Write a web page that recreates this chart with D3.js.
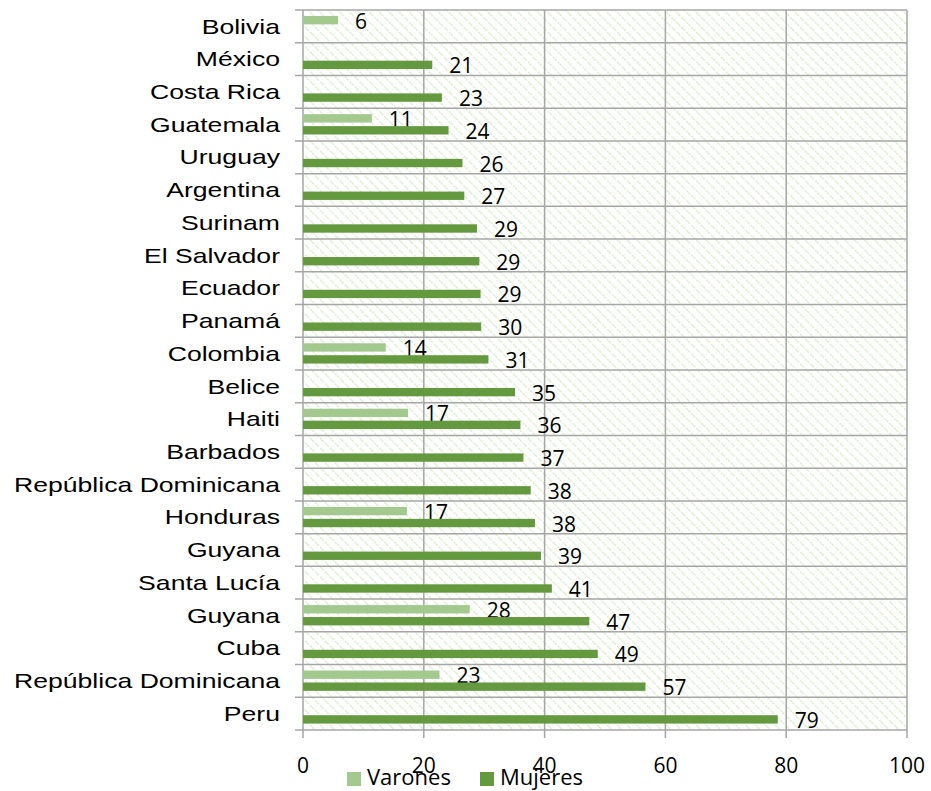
<!DOCTYPE html>
<html lang="es">
<head>
<meta charset="UTF-8">
<title>Varones y Mujeres</title>
<script src="https://cdn.jsdelivr.net/npm/d3@7"></script>
<style>
  body { margin: 0; background: #fff; }
  .cat { font-family: "Liberation Sans", Arial, sans-serif; font-size: 20px; fill: #000; }
  .num { font-family: "Open Sans", sans-serif; font-size: 21px; fill: #000; }
  .leg { font-family: "Open Sans", sans-serif; font-size: 22px; fill: #000; }
</style>
</head>
<body>
<div id="chart"></div>
<script>
    // Data (top to bottom as in the chart)
    const countries = ["Bolivia", "México", "Costa Rica", "Guatemala", "Uruguay", "Argentina",
        "Surinam", "El Salvador", "Ecuador", "Panamá", "Colombia", "Belice", "Haiti", "Barbados",
        "República Dominicana", "Honduras", "Guyana", "Santa Lucía", "Guyana", "Cuba",
        "República Dominicana", "Peru"];
    const varones = [5.8, null, null, 11.4, null, null, null, null, null, null, 13.7, null, 17.4, null,
        null, 17.2, null, null, 27.6, null, 22.6, null];
    const mujeres = [null, 21.4, 23.0, 24.1, 26.4, 26.7, 28.8, 29.2, 29.4, 29.5, 30.7, 35.1, 36.0, 36.5,
        37.7, 38.4, 39.4, 41.2, 47.4, 48.8, 56.7, 78.6];
    const xTicks = [0, 20, 40, 60, 80, 100];
    const seriesNames = ["Varones", "Mujeres"];
    const colors = ["#a3c98f", "#64993f"];

    const width = 931, height = 791;
    const plot = { left: 303, right: 907, top: 10, bottom: 730 };

    const svg = d3.select("#chart").append("svg")
        .attr("width", width)
        .attr("height", height);

    // hatched background pattern
    const pat = svg.append("defs").append("pattern")
        .attr("id", "hatch")
        .attr("patternUnits", "userSpaceOnUse")
        .attr("width", 7).attr("height", 7)
        .attr("patternTransform", "rotate(-45)");
    pat.append("rect").attr("width", 7).attr("height", 7).attr("fill", "#fff");
    pat.append("line")
        .attr("x1", 0).attr("y1", 0).attr("x2", 0).attr("y2", 7)
        .attr("stroke", "#d6ebc6").attr("stroke-width", 2.5)
        .attr("stroke-dasharray", "2.5,1.5");

    const x = d3.scaleLinear().domain([0, 100]).range([plot.left, plot.right]);
    const idx = countries.map((d, i) => i);
    const y = d3.scaleBand().domain(idx).range([plot.top, plot.bottom]).padding(0);
    const y1 = d3.scaleBand().domain(seriesNames).range([6, 26.3]).paddingInner(0.3);

    svg.append("rect")
        .attr("x", plot.left).attr("y", plot.top)
        .attr("width", plot.right - plot.left).attr("height", plot.bottom - plot.top)
        .attr("fill", "url(#hatch)");

    const grid = "#a6a6a6";

    // horizontal grid lines + left ticks
    const bounds = idx.map(i => y(i)).concat([plot.bottom]);
    svg.append("g").selectAll("line")
        .data(bounds)
        .join("line")
        .attr("x1", plot.left - 8).attr("x2", plot.right)
        .attr("y1", d => d).attr("y2", d => d)
        .attr("stroke", grid).attr("stroke-width", 1.5);

    // vertical grid lines + bottom ticks
    svg.append("g").selectAll("line")
        .data(xTicks)
        .join("line")
        .attr("x1", d => x(d)).attr("x2", d => x(d))
        .attr("y1", plot.top).attr("y2", plot.bottom + 8)
        .attr("stroke", grid).attr("stroke-width", 1.5);

    // x tick labels
    svg.append("g").selectAll("text")
        .data(xTicks)
        .join("text")
        .attr("class", "num")
        .attr("x", d => x(d))
        .attr("y", 773)
        .attr("text-anchor", "middle")
        .text(d => d);

    // category labels (the source text is drawn a bit wide)
    svg.append("g").selectAll("text")
        .data(idx)
        .join("text")
        .attr("class", "cat")
        .attr("transform", d => `translate(280,${y(d) + y.bandwidth() / 2}) scale(1.33,1)`)
        .attr("dy", "0.36em")
        .attr("text-anchor", "end")
        .text(d => countries[d]);

    // bars
    const series = [varones, mujeres];
    series.forEach((vals, s) => {
        const rows = idx.filter(i => vals[i] != null);
        const g = svg.append("g");
        g.selectAll("rect")
            .data(rows)
            .join("rect")
            .attr("x", x(0))
            .attr("y", i => y(i) + y1(seriesNames[s]))
            .attr("width", i => x(vals[i]) - x(0))
            .attr("height", y1.bandwidth())
            .attr("fill", colors[s]);
        g.selectAll("text")
            .data(rows)
            .join("text")
            .attr("class", "num")
            .attr("x", i => x(vals[i]) + 17)
            .attr("y", i => y(i) + y1(seriesNames[s]) + y1.bandwidth() / 2 + 8.5)
            .text(i => Math.round(vals[i]));
    });

    // legend
    const legX = [347, 480];
    const leg = svg.append("g").selectAll("g")
        .data(seriesNames)
        .join("g")
        .attr("transform", (d, i) => `translate(${legX[i]},772)`);
    leg.append("rect")
        .attr("width", 14).attr("height", 14)
        .attr("fill", (d, i) => colors[i]);
    leg.append("text")
        .attr("class", "leg")
        .attr("x", 20)
        .attr("y", 13)
        .text(d => d);
</script>
</body>
</html>
